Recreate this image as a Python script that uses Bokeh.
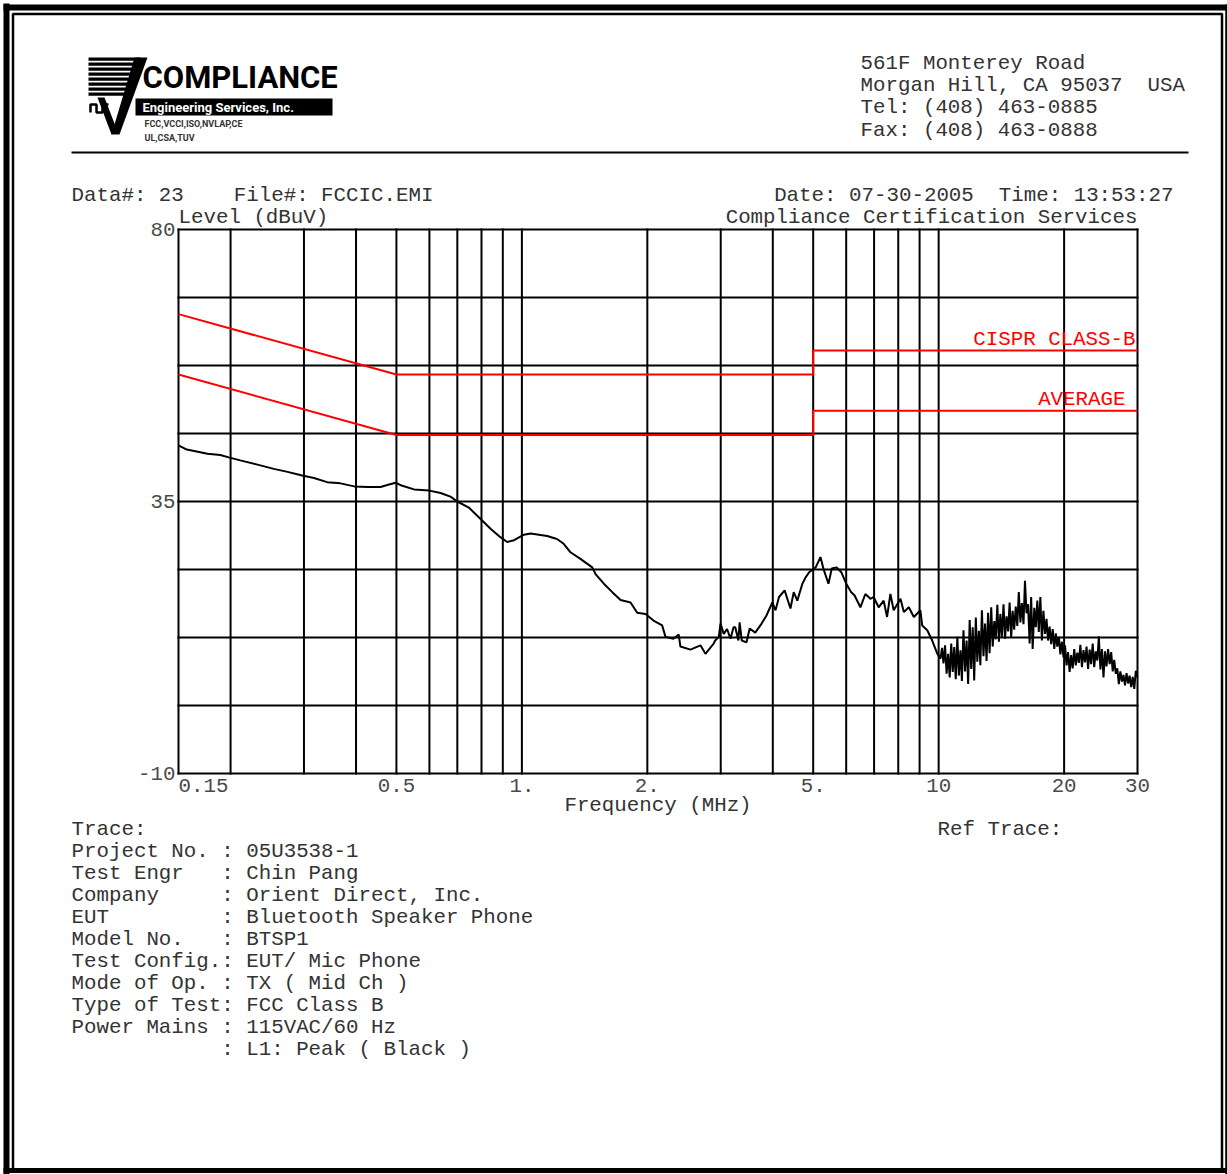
import math
from bokeh.plotting import figure
from bokeh.models import Range1d, LogScale, LinearScale
from bokeh.core.properties import value
from bokeh.embed import file_html
from bokeh.resources import INLINE

# ---------------- chart data ----------------
# smooth / moderately noisy part of the peak trace, 0.15 - 10 MHz
TRACE_FREQ_MHZ = [
    0.150, 0.157, 0.168, 0.176, 0.189, 0.198, 0.211, 0.232, 0.254, 0.274,
    0.297, 0.317, 0.341, 0.367, 0.396, 0.426, 0.458, 0.480, 0.498, 0.512,
    0.551, 0.600, 0.638, 0.674, 0.700, 0.746, 0.796, 0.841, 0.888, 0.922,
    0.958, 1.011, 1.050, 1.150, 1.214, 1.260, 1.308, 1.382, 1.475, 1.502,
    1.573, 1.648, 1.725, 1.823, 1.891, 1.980, 2.069, 2.171, 2.211, 2.310,
    2.378, 2.401, 2.538, 2.682, 2.757, 2.885, 2.910, 2.968, 2.996, 3.050,
    3.107, 3.166, 3.220, 3.251, 3.307, 3.330, 3.370, 3.460, 3.520, 3.630,
    3.760, 3.860, 3.990, 4.060, 4.140, 4.270, 4.410, 4.490, 4.580, 4.710,
    4.800, 4.890, 5.070, 5.205, 5.290, 5.440, 5.540, 5.690, 5.840, 6.000,
    6.170, 6.280, 6.490, 6.670, 6.860, 6.980, 7.180, 7.380, 7.520, 7.660,
    7.800, 8.100, 8.250, 8.480, 8.720, 9.040, 9.130, 9.390, 9.650, 9.930,
]
TRACE_LEVEL_DBUV = [
    44.3, 43.6, 43.2, 42.9, 42.7, 42.3, 41.8, 41.1, 40.4, 39.9,
    39.3, 38.9, 38.2, 38.0, 37.5, 37.4, 37.4, 37.8, 38.1, 37.7,
    37.0, 36.8, 36.4, 35.8, 35.0, 34.0, 32.1, 30.5, 29.1, 28.3,
    28.6, 29.5, 29.7, 29.3, 28.8, 28.0, 26.6, 25.5, 24.1, 23.0,
    21.4, 20.0, 18.7, 18.3, 16.6, 16.4, 15.3, 14.5, 12.6, 12.3,
    13.0, 11.0, 10.5, 11.2, 9.8, 11.5, 12.0, 12.6, 14.8, 13.1,
    13.9, 12.3, 14.2, 14.2, 12.0, 15.0, 12.0, 11.7, 14.0, 13.3,
    14.8, 16.1, 18.3, 17.0, 19.2, 20.3, 17.3, 20.0, 18.6, 21.4,
    22.5, 23.3, 24.1, 25.8, 23.9, 21.4, 23.9, 24.1, 23.3, 21.4,
    20.0, 19.5, 17.5, 19.7, 18.9, 19.2, 17.5, 18.6, 15.9, 19.7,
    17.0, 18.9, 16.7, 17.5, 15.9, 17.0, 14.5, 13.7, 12.0, 9.8,
]
# dense, noisy part of the peak trace, 10 - 30 MHz
NOISE_FREQ_MHZ = [
    10.10, 10.19, 10.27, 10.36, 10.45, 10.54, 10.63, 10.72, 10.81, 10.90,
    10.99, 11.09, 11.18, 11.28, 11.37, 11.47, 11.57, 11.67, 11.77, 11.87,
    11.97, 12.07, 12.17, 12.28, 12.38, 12.49, 12.59, 12.70, 12.81, 12.92,
    13.03, 13.14, 13.25, 13.37, 13.48, 13.60, 13.71, 13.83, 13.95, 14.06,
    14.18, 14.31, 14.43, 14.55, 14.68, 14.80, 14.93, 15.05, 15.18, 15.31,
    15.44, 15.57, 15.71, 15.84, 15.98, 16.11, 16.25, 16.39, 16.53, 16.67,
    16.81, 16.96, 17.10, 17.25, 17.39, 17.54, 17.69, 17.84, 18.00, 18.15,
    18.30, 18.46, 18.62, 18.78, 18.94, 19.10, 19.26, 19.43, 19.59, 19.76,
    19.93, 20.10, 20.27, 20.44, 20.62, 20.79, 20.97, 21.15, 21.33, 21.51,
    21.70, 21.88, 22.07, 22.26, 22.45, 22.64, 22.83, 23.03, 23.22, 23.42,
    23.62, 23.82, 24.03, 24.23, 24.44, 24.65, 24.86, 25.07, 25.28, 25.50,
    25.72, 25.94, 26.16, 26.38, 26.61, 26.83, 27.06, 27.29, 27.53, 27.76,
    28.00, 28.24, 28.48, 28.72, 28.97, 29.22, 29.47, 29.72, 30.00,
]
NOISE_LEVEL_DBUV = [
    9.0, 10.8, 8.2, 11.2, 6.5, 9.8, 5.9, 11.5, 6.8, 10.9,
    5.6, 12.6, 6.2, 10.4, 5.3, 13.7, 6.9, 12.0, 4.8, 15.4,
    7.3, 14.2, 5.4, 15.8, 8.5, 13.6, 7.9, 17.0, 9.4, 14.8,
    8.6, 16.6, 9.9, 17.5, 11.0, 15.2, 12.2, 17.9, 11.8, 16.4,
    12.6, 18.0, 12.3, 16.0, 13.5, 18.3, 12.6, 16.9, 13.8, 17.6,
    14.4, 20.0, 15.0, 18.2, 14.7, 21.9, 16.5, 18.0, 11.5, 19.2,
    10.6, 17.4, 14.2, 18.6, 13.4, 19.2, 12.0, 16.9, 13.1, 15.6,
    12.0, 14.3, 11.4, 13.9, 10.6, 13.2, 11.0, 12.6, 9.7, 11.8,
    9.2, 11.2, 7.9, 10.1, 6.8, 9.6, 7.4, 10.6, 7.9, 10.0,
    8.3, 11.3, 7.6, 10.4, 8.4, 11.0, 7.3, 10.5, 8.1, 11.5,
    7.6, 10.2, 8.7, 12.7, 7.2, 10.6, 5.9, 10.2, 7.7, 10.6,
    8.1, 10.1, 6.9, 8.8, 6.5, 7.4, 4.8, 6.9, 5.2, 6.3,
    4.6, 6.6, 4.9, 6.2, 4.3, 6.0, 4.0, 7.0, 5.9,
]
LIMIT_FREQ_MHZ = [0.15, 0.5, 5.0, 5.0, 30.0]
LIMIT_QP_DBUV = [66, 56, 56, 60, 60]
LIMIT_AVG_DBUV = [56, 46, 46, 50, 50]
GRID_FREQ_MHZ = [0.15, 0.2, 0.3, 0.4, 0.5, 0.6, 0.7, 0.8, 0.9, 1, 2, 3, 4, 5,
                 6, 7, 8, 9, 10, 20, 30]
GRID_LEVEL_DBUV = [80, 68.75, 57.5, 46.25, 35, 23.75, 12.5, 1.25, -10]
X_TICK_VALUES = [0.15, 0.5, 1, 2, 5, 10, 20, 30]
X_TICK_LABELS = ["0.15", "0.5", "1.", "2.", "5.", "10", "20", "30"]
Y_TICK_VALUES = [80, 35, -10]
Y_TICK_LABELS = ["80", "35", "-10"]

ADDRESS_LINES = ["561F Monterey Road", "Morgan Hill, CA 95037  USA",
                 "Tel: (408) 463-0885", "Fax: (408) 463-0888"]
INFO_LINES = [
    "Trace:",
    "Project No. : 05U3538-1",
    "Test Engr   : Chin Pang",
    "Company     : Orient Direct, Inc.",
    "EUT         : Bluetooth Speaker Phone",
    "Model No.   : BTSP1",
    "Test Config.: EUT/ Mic Phone",
    "Mode of Op. : TX ( Mid Ch )",
    "Type of Test: FCC Class B",
    "Power Mains : 115VAC/60 Hz",
    "            : L1: Peak ( Black )",
]


def nb(s):
    # keep runs of spaces in SVG text
    return s.replace(" ", "\u00a0")


# ---------------- page layout (pixels) ----------------
W, H = 1227, 1174
PL, PR, PT, PB = 178, 1137, 229, 773          # plot area on the page
F_MIN, F_MAX = 0.15, 30.0
L_MIN, L_MAX = -10.0, 80.0

dec_per_px = (math.log10(F_MAX) - math.log10(F_MIN)) / (PR - PL)
x_start = 10 ** (math.log10(F_MIN) - PL * dec_per_px)
x_end = 10 ** (math.log10(F_MAX) + (W - PR) * dec_per_px)
db_per_px = (L_MAX - L_MIN) / (PB - PT)
y_start = L_MIN - (H - PB) * db_per_px
y_end = L_MAX + PT * db_per_px

p = figure(width=W, height=H, output_backend="svg", toolbar_location=None,
           x_axis_type=None, y_axis_type=None,
           x_range=Range1d(x_start, x_end), y_range=Range1d(y_start, y_end),
           min_border=0, outline_line_color=None)
p.x_scale = LogScale()
p.extra_x_ranges = {"px": Range1d(0, W)}
p.extra_x_scales = {"px": LinearScale()}
p.extra_y_ranges = {"py": Range1d(H, 0)}
p.extra_y_scales = {"py": LinearScale()}
p.background_fill_color = "white"
p.border_fill_color = "white"

MONO = value("Liberation Mono")
LOGO = value("Roboto")
FS = "20.8px"
TXT = "#333333"
TICK = "#4a4a4a"
PG = dict(x_range_name="px", y_range_name="py")

# ---------------- page frame ----------------
p.segment(x0=[6], y0=[3], x1=[6], y1=[1174], line_width=6, line_color="black", **PG)
p.segment(x0=[3], y0=[7], x1=[1227], y1=[7], line_width=6, line_color="black", **PG)
p.segment(x0=[12.5, 12, 1221.5, 1226], y0=[13, 13.5, 13, 4],
          x1=[12.5, 1222, 1221.5, 1226], y1=[1169, 13.5, 1169, 1174],
          line_width=2.5, line_color="black", **PG)
p.segment(x0=[3], y0=[1170], x1=[1227], y1=[1170], line_width=5, line_color="black", **PG)
# header rule
p.segment(x0=[71], y0=[152], x1=[1188], y1=[152], line_width=2, line_color="black", **PG)

# ---------------- logo ----------------
stripe_top = [57, 62, 67, 72, 77, 82, 87, 92]
stripe_right = [140, 138.5, 136.5, 134.5, 133, 131, 129, 127]
p.quad(left=[88] * len(stripe_top), right=stripe_right,
       top=stripe_top, bottom=[t + 3.2 for t in stripe_top],
       fill_color="black", line_color=None, **PG)
p.patches(xs=[[134, 147, 119, 111], [97, 104, 117, 111]],
          ys=[[57, 57, 134, 134], [97, 97, 131, 134]],
          fill_color="black", line_color=None, **PG)
p.quad(left=[135], right=[332], top=[98], bottom=[115], fill_color="black",
       line_color=None, **PG)
p.line(x=[90, 90, 96, 96, 102, 102, 108], y=[112, 104, 104, 112, 112, 104, 104],
       line_width=2.5, line_color="black", **PG)
p.text(x=[142], y=[77], text=["COMPLIANCE"], text_font=LOGO, text_font_style="bold",
       text_font_size="31px", text_color="black", text_baseline="middle", **PG)
p.text(x=[142], y=[107], text=["Engineering Services, Inc."], text_font=LOGO,
       text_font_style="bold", text_font_size="13px", text_color="white",
       text_baseline="middle", **PG)
p.text(x=[144, 144], y=[123, 137], text=["FCC,VCCI,ISO,NVLAP,CE", "UL,CSA,TUV"],
       text_font=LOGO, text_font_style="bold", text_font_size="9px",
       text_color="#333333", text_baseline="middle", **PG)

# ---------------- header texts ----------------
p.text(x=[860] * 4, y=[63, 85, 107, 130], text=[nb(s) for s in ADDRESS_LINES],
       text_font=MONO, text_font_size=FS, text_color=TXT, text_baseline="middle", **PG)
p.text(x=[71], y=[195], text=[nb("Data#: 23    File#: FCCIC.EMI")], text_font=MONO,
       text_font_size=FS, text_color=TXT, text_baseline="middle", **PG)
p.text(x=[1173], y=[195], text=[nb("Date: 07-30-2005  Time: 13:53:27")], text_font=MONO,
       text_font_size=FS, text_color=TXT, text_baseline="middle", text_align="right", **PG)
p.text(x=[PL], y=[217], text=[nb("Level (dBuV)")], text_font=MONO, text_font_size=FS,
       text_color=TXT, text_baseline="middle", **PG)
p.text(x=[PR], y=[217], text=[nb("Compliance Certification Services")], text_font=MONO,
       text_font_size=FS, text_color=TXT, text_baseline="middle", text_align="right", **PG)

# ---------------- grid & frame of the chart ----------------
p.segment(x0=GRID_FREQ_MHZ, y0=[L_MIN] * len(GRID_FREQ_MHZ),
          x1=GRID_FREQ_MHZ, y1=[L_MAX] * len(GRID_FREQ_MHZ),
          line_color="black", line_width=2, line_cap="square")
p.segment(x0=[F_MIN] * len(GRID_LEVEL_DBUV), y0=GRID_LEVEL_DBUV,
          x1=[F_MAX] * len(GRID_LEVEL_DBUV), y1=GRID_LEVEL_DBUV,
          line_color="black", line_width=2, line_cap="square")

# ---------------- limit lines ----------------
p.line(x=LIMIT_FREQ_MHZ, y=LIMIT_QP_DBUV, line_color="#ff0000", line_width=2)
p.line(x=LIMIT_FREQ_MHZ, y=LIMIT_AVG_DBUV, line_color="#ff0000", line_width=2)
p.text(x=[1135, 1125], y=[339, 399], text=[nb("CISPR CLASS-B"), "AVERAGE"],
       text_font=MONO, text_font_size=FS, text_color="#ff0000",
       text_baseline="middle", text_align="right", **PG)

# ---------------- measured peak trace ----------------
p.line(x=TRACE_FREQ_MHZ + NOISE_FREQ_MHZ, y=TRACE_LEVEL_DBUV + NOISE_LEVEL_DBUV,
       line_color="black", line_width=2)

# ---------------- tick labels ----------------
p.text(x=X_TICK_VALUES[:1], y=[785], text=X_TICK_LABELS[:1], text_font=MONO,
       text_font_size=FS, text_color=TICK, text_baseline="middle",
       text_align="left", y_range_name="py")
p.text(x=X_TICK_VALUES[1:], y=[785] * (len(X_TICK_VALUES) - 1), text=X_TICK_LABELS[1:],
       text_font=MONO, text_font_size=FS, text_color=TICK,
       text_baseline="middle", text_align="center", y_range_name="py")
p.text(x=[175] * len(Y_TICK_VALUES), y=Y_TICK_VALUES, text=Y_TICK_LABELS, text_font=MONO,
       text_font_size=FS, text_color=TICK, text_baseline="middle",
       text_align="right", x_range_name="px")
p.text(x=[(PL + PR) / 2], y=[805], text=[nb("Frequency (MHz)")], text_font=MONO,
       text_font_size=FS, text_color=TXT, text_baseline="middle", text_align="center", **PG)

# ---------------- footer info ----------------
p.text(x=[71] * len(INFO_LINES), y=[829 + 22 * i for i in range(len(INFO_LINES))],
       text=[nb(s) for s in INFO_LINES], text_font=MONO, text_font_size=FS,
       text_color=TXT, text_baseline="middle", **PG)
p.text(x=[937], y=[829], text=[nb("Ref Trace:")], text_font=MONO, text_font_size=FS,
       text_color=TXT, text_baseline="middle", **PG)

html = file_html(p, INLINE, title="CISPR Class B conducted emissions")
html = html.replace("<body>", '<body style="margin:0;overflow:hidden">', 1)
open("out.html", "w").write(html)
